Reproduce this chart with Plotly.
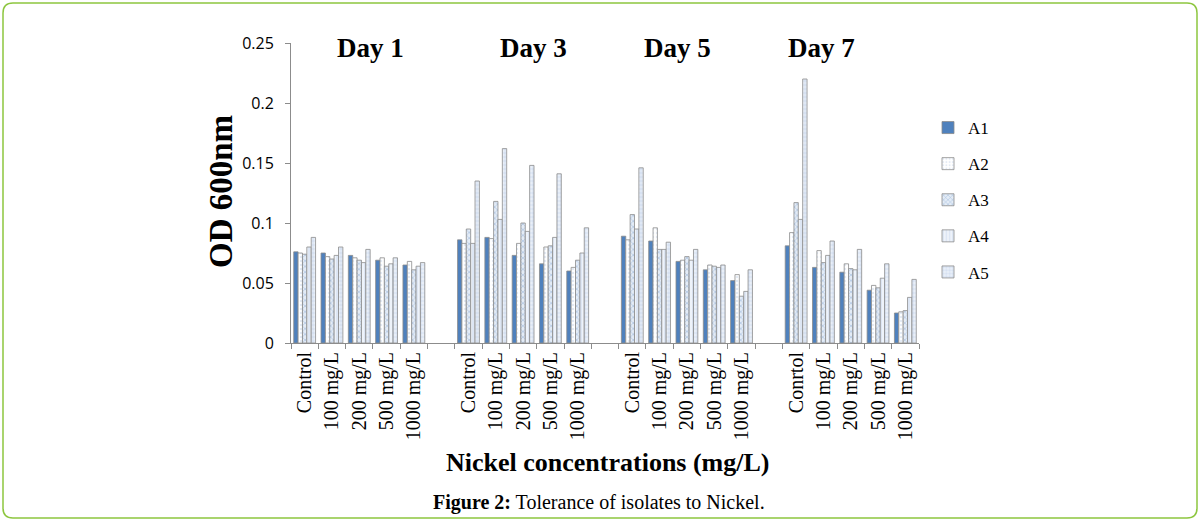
import plotly.graph_objects as go

days = ["Day 1", "Day 3", "Day 5", "Day 7"]
conc_labels = [
    ["Control", "100 mg/L", "200 mg/L", "500 mg/L", "1000 mg/L"],
    ["Control", "100 mg/L", "200 mg/L", "500 mg/L", "1000 mg/L"],
    ["Control", "100 mg/L", "200 mg/L", "500 mg/L", "1000 mg/L"],
    ["Conrtol", "100 mg/L", "200 mg/L", "500 mg/L", "1000 mg/L"],
]

series_names = ["A1", "A2", "A3", "A4", "A5"]
# values per series, per day (Control, 100, 200, 500, 1000)
A1 = [[0.076, 0.075, 0.073, 0.069, 0.065],
      [0.086, 0.088, 0.073, 0.066, 0.060],
      [0.089, 0.085, 0.068, 0.061, 0.052],
      [0.081, 0.063, 0.059, 0.044, 0.025]]
A2 = [[0.075, 0.072, 0.071, 0.071, 0.068],
      [0.083, 0.087, 0.083, 0.080, 0.063],
      [0.086, 0.096, 0.069, 0.065, 0.057],
      [0.092, 0.077, 0.066, 0.048, 0.026]]
A3 = [[0.074, 0.070, 0.069, 0.064, 0.061],
      [0.095, 0.118, 0.100, 0.081, 0.069],
      [0.107, 0.078, 0.072, 0.064, 0.039],
      [0.117, 0.067, 0.062, 0.046, 0.027]]
A4 = [[0.080, 0.073, 0.067, 0.066, 0.064],
      [0.083, 0.103, 0.093, 0.088, 0.075],
      [0.095, 0.078, 0.069, 0.063, 0.043],
      [0.103, 0.073, 0.061, 0.054, 0.038]]
A5 = [[0.088, 0.080, 0.078, 0.071, 0.067],
      [0.135, 0.162, 0.148, 0.141, 0.096],
      [0.146, 0.084, 0.078, 0.065, 0.061],
      [0.220, 0.085, 0.078, 0.066, 0.053]]
all_series = [A1, A2, A3, A4, A5]

# slot positions: 5 concentrations per day, one empty slot between days
slots_per_day = len(conc_labels[0]) + 1
x_pos = [d * slots_per_day + k for d in range(len(days)) for k in range(len(conc_labels[d]))]
x_text = [lab for d in range(len(days)) for lab in conc_labels[d]]
n_slots = len(days) * slots_per_day - 1
boundaries = [i - 0.5 for i in range(n_slots + 1)]

# plot-area pixel geometry
W, H = 1200, 521
L, R, T, B = 291, 919, 43, 343


def px(xp):
    return (xp - L) / (R - L)


def py(yp):
    return (B - yp) / (B - T)


styles = [
    dict(color="#4F81BD", pattern=None),
    dict(color="#FFFFFF", pattern=dict(shape=".", fgcolor="#C6D4E8", size=4, solidity=0.3)),
    dict(color="#E4ECF6", pattern=dict(shape="x", fgcolor="#4F81BD", size=4, solidity=0.25)),
    dict(color="#EEF3FA", pattern=dict(shape="|", fgcolor="#9BB5DA", size=4, solidity=0.2)),
    dict(color="#E9EFF8", pattern=dict(shape="+", fgcolor="#8FAADC", size=4, solidity=0.2)),
]

fig = go.Figure()
for i, name in enumerate(series_names):
    y_vals = [v for day in all_series[i] for v in day]
    marker = dict(color=styles[i]["color"], line=dict(color="#8C8C8C", width=0.8))
    if styles[i]["pattern"]:
        marker["pattern"] = styles[i]["pattern"]
    fig.add_trace(go.Bar(x=x_pos, y=y_vals, name=name, marker=marker,
                         legendgroup=name))

annotations = []
day_px = [370, 533, 677, 821]
for d, name in enumerate(days):
    annotations.append(dict(text="<b>%s</b>" % name, x=px(day_px[d]), y=py(48),
                            xref="paper", yref="paper", showarrow=False,
                            font=dict(family="Liberation Serif", size=27, color="black"),
                            xanchor="center", yanchor="middle"))
annotations.append(dict(text="<b>OD 600nm</b>", x=px(221), y=py(192), xref="paper", yref="paper",
                        showarrow=False, textangle=-90,
                        font=dict(family="Liberation Serif", size=33, color="black"),
                        xanchor="center", yanchor="middle"))
annotations.append(dict(text="<b>Nickel concentrations (mg/L)</b>", x=px(608), y=py(462),
                        xref="paper", yref="paper", showarrow=False,
                        font=dict(family="Liberation Serif", size=26, color="black"),
                        xanchor="center", yanchor="middle"))
annotations.append(dict(text="<b>Figure 2:</b> Tolerance of isolates to Nickel.", x=px(599), y=py(503),
                        xref="paper", yref="paper", showarrow=False,
                        font=dict(family="Liberation Serif", size=20, color="black"),
                        xanchor="center", yanchor="middle"))

# rounded green frame
x0, x1, y0, y1, r = px(3), px(1197), py(3), py(518), 10
rx, ry = r / (R - L), r / (B - T)
path = (f"M {x0+rx},{y0} L {x1-rx},{y0} Q {x1},{y0} {x1},{y0-ry} "
        f"L {x1},{y1+ry} Q {x1},{y1} {x1-rx},{y1} L {x0+rx},{y1} "
        f"Q {x0},{y1} {x0},{y1+ry} L {x0},{y0-ry} Q {x0},{y0} {x0+rx},{y0} Z")
shapes = [dict(type="path", path=path, xref="paper", yref="paper",
               line=dict(color="#8DC63F", width=1.5))]

fig.update_layout(
    width=W, height=H,
    margin=dict(l=L, r=W - R, t=T, b=H - B),
    paper_bgcolor="white", plot_bgcolor="white",
    barmode="group", bargap=0.2, bargroupgap=0,
    showlegend=True,
    legend=dict(x=px(928), y=py(110), xanchor="left", yanchor="top",
                font=dict(family="Liberation Serif", size=17, color="black"),
                tracegroupgap=11, itemwidth=30, bgcolor="rgba(0,0,0,0)"),
    annotations=annotations, shapes=shapes,
    xaxis=dict(range=[-0.5, n_slots - 0.5],
               tickmode="array", tickvals=x_pos, ticktext=x_text,
               tickangle=-90, ticks="", ticklen=0,
               minor=dict(tickmode="array", tickvals=boundaries, ticks="outside",
                          ticklen=5, tickcolor="#8C8C8C", showgrid=False),
               showline=True, linecolor="#8C8C8C", linewidth=1,
               tickfont=dict(family="Liberation Serif", size=20, color="black"),
               showgrid=False, zeroline=False, fixedrange=True),
    yaxis=dict(range=[0, 0.25], dtick=0.05, tick0=0, ticks="outside", ticklen=5,
               tickcolor="#8C8C8C", showline=True, linecolor="#8C8C8C", linewidth=1,
               showgrid=False, zeroline=False, ticklabelstandoff=8,
               tickfont=dict(family="Open Sans", size=16, color="black")),
)

fig.write_html("out.html", config={"displayModeBar": False},
               post_script="document.body.style.margin='0';document.body.style.padding='0';")
